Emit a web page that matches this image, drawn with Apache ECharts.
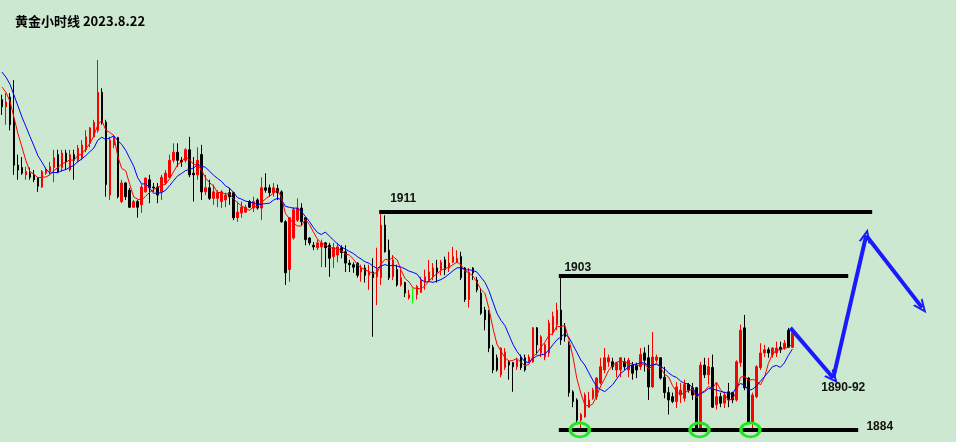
<!DOCTYPE html>
<html><head><meta charset="utf-8">
<script src="https://cdn.jsdelivr.net/npm/echarts@6/dist/echarts.min.js"></script>
<style>html,body{margin:0;padding:0;background:#cde8d0}#c{width:956px;height:442px}</style>
</head><body><div id="c"></div>
<script>
// hourly slots (candles occupy the first 199, the rest is space for the projection)
const hours = Array.from({length: 239}, (_, i) => 'H' + i);

// [open, close, low, high]
const candles = [
[1924.8,1923.9,1922.9,1925.4],[1923.9,1924.5,1921.7,1925.6],[1925.1,1921.7,1921.0,1925.6],[1922.3,1916.7,1915.5,1927.2],
[1916.7,1916.1,1914.9,1918.0],[1916.4,1915.7,1915.5,1917.7],[1915.5,1915.9,1914.9,1916.5],[1915.7,1915.2,1914.9,1916.4],
[1915.5,1914.9,1914.6,1916.1],[1915.1,1914.1,1913.4,1915.2],[1914.0,1915.9,1913.9,1916.1],[1915.7,1916.1,1915.5,1916.4],
[1915.9,1916.5,1915.5,1917.1],[1916.4,1917.6,1914.6,1918.6],[1918.0,1915.9,1915.7,1918.6],[1916.4,1918.2,1915.9,1918.6],
[1918.2,1917.1,1916.1,1918.6],[1916.1,1918.0,1915.9,1918.6],[1918.0,1917.3,1914.9,1918.6],[1917.3,1918.8,1917.0,1919.2],
[1917.6,1919.2,1917.3,1919.8],[1918.6,1920.2,1918.3,1921.0],[1919.4,1921.3,1918.9,1921.4],[1920.2,1922.0,1920.1,1922.3],
[1921.0,1925.7,1920.7,1929.7],[1925.7,1921.9,1921.7,1926.2],[1922.0,1914.3,1912.8,1922.3],[1913.0,1919.8,1912.4,1920.2],
[1919.2,1920.1,1918.8,1920.4],[1920.1,1912.8,1912.6,1920.2],[1912.2,1914.5,1912.0,1914.9],[1914.5,1912.8,1912.4,1914.6],
[1913.6,1911.5,1911.4,1913.9],[1911.5,1912.2,1911.4,1912.4],[1912.2,1911.5,1910.2,1912.4],[1911.8,1914.0,1910.8,1914.3],
[1913.4,1915.1,1913.3,1915.2],[1914.9,1913.9,1912.0,1915.5],[1914.0,1913.9,1913.4,1914.5],[1914.0,1913.0,1912.0,1914.5],
[1913.4,1915.2,1912.4,1915.5],[1914.5,1915.7,1914.3,1916.1],[1915.2,1917.3,1915.1,1918.0],[1917.3,1918.3,1917.0,1919.4],
[1918.3,1917.3,1916.5,1919.4],[1917.3,1917.1,1916.5,1917.7],[1917.3,1918.6,1917.0,1918.8],[1918.6,1915.5,1915.2,1920.2],
[1915.7,1915.5,1912.2,1917.7],[1915.5,1917.3,1914.9,1918.9],[1918.0,1913.4,1912.4,1919.2],[1913.4,1913.9,1913.0,1915.5],
[1913.9,1912.6,1912.4,1914.9],[1912.6,1913.4,1911.8,1914.3],[1912.6,1913.3,1911.5,1913.6],[1912.2,1913.4,1911.4,1913.6],
[1912.4,1913.0,1911.5,1913.3],[1913.3,1912.8,1911.8,1913.9],[1913.3,1910.2,1909.9,1913.4],[1910.2,1910.9,1909.7,1912.2],
[1910.8,1911.5,1910.2,1912.2],[1910.9,1911.5,1910.8,1911.8],[1912.2,1911.5,1911.4,1912.4],[1911.4,1912.2,1910.9,1912.8],
[1912.4,1911.4,1911.2,1912.6],[1911.4,1913.9,1909.9,1915.2],[1913.9,1913.6,1913.3,1915.7],[1913.9,1913.3,1912.8,1914.3],
[1913.3,1913.9,1912.8,1914.5],[1913.8,1913.3,1912.4,1914.3],[1913.4,1909.7,1909.6,1913.6],[1909.7,1903.4,1901.9,1909.9],
[1903.8,1910.2,1902.3,1910.3],[1907.7,1911.2,1907.5,1911.5],[1909.9,1911.4,1909.7,1912.6],[1911.4,1909.7,1909.3,1912.0],
[1910.2,1907.5,1906.8,1910.3],[1907.7,1907.1,1906.8,1907.8],[1906.8,1906.6,1906.2,1907.2],[1906.5,1907.1,1906.2,1907.5],
[1906.6,1907.1,1904.1,1907.5],[1907.1,1906.5,1904.1,1907.2],[1906.8,1905.2,1902.9,1907.1],[1905.4,1906.5,1904.0,1907.1],
[1905.6,1906.6,1904.7,1907.1],[1906.5,1905.9,1905.2,1906.8],[1906.0,1904.6,1903.5,1906.8],[1904.6,1904.4,1903.5,1905.0],
[1904.4,1904.1,1903.4,1904.7],[1904.6,1903.1,1902.8,1904.7],[1903.5,1904.0,1902.3,1904.4],[1904.0,1903.1,1902.2,1904.4],
[1903.1,1903.5,1901.3,1904.4],[1903.5,1902.8,1895.5,1905.2],[1902.9,1903.8,1899.4,1906.5],[1902.8,1909.3,1901.9,1910.9],
[1909.3,1906.0,1905.9,1910.5],[1906.2,1902.8,1902.5,1907.5],[1902.9,1905.0,1902.5,1905.6],[1903.8,1901.9,1901.7,1904.4],
[1901.9,1902.8,1901.7,1903.8],[1902.2,1900.9,1900.4,1902.3],[1900.3,1900.7,1900.1,1901.3],[1901.3,1901.3,1899.6,1901.5],
[1900.7,1901.7,1900.1,1901.9],[1901.0,1902.5,1900.9,1902.9],[1902.3,1902.9,1901.3,1903.8],[1902.5,1903.5,1902.3,1905.0],
[1902.9,1904.0,1902.5,1904.6],[1904.0,1903.5,1902.2,1905.0],[1903.8,1904.7,1903.1,1905.0],[1905.0,1903.8,1903.1,1905.4],
[1904.0,1904.6,1903.5,1906.0],[1904.7,1905.4,1904.6,1906.6],[1904.7,1905.2,1904.6,1906.2],[1905.4,1902.8,1902.5,1906.0],
[1904.0,1900.1,1899.8,1904.1],[1900.1,1903.5,1899.1,1904.0],[1904.0,1903.4,1902.5,1904.1],[1902.5,1901.3,1901.0,1902.9],
[1900.9,1898.4,1898.2,1901.5],[1898.8,1897.6,1896.3,1899.2],[1898.4,1894.1,1893.6,1898.8],[1894.2,1891.4,1891.0,1894.5],
[1892.9,1891.4,1891.2,1893.3],[1890.8,1894.1,1890.5,1894.2],[1891.7,1893.6,1891.4,1894.1],[1892.4,1892.0,1890.2,1892.6],
[1892.3,1891.8,1888.7,1892.4],[1891.8,1892.6,1891.4,1892.9],[1893.0,1891.7,1891.4,1893.3],[1892.9,1891.4,1891.2,1893.3],
[1892.4,1893.0,1892.3,1893.3],[1892.4,1896.6,1892.3,1896.7],[1896.6,1894.5,1893.3,1896.7],[1893.5,1895.5,1893.0,1895.7],
[1893.0,1894.5,1892.6,1894.7],[1893.5,1897.2,1893.0,1897.6],[1896.0,1898.0,1895.7,1898.6],[1897.0,1898.8,1896.3,1899.7],
[1898.8,1895.1,1894.5,1902.9],[1896.7,1895.5,1894.9,1897.2],[1894.5,1888.6,1888.1,1894.9],[1888.7,1887.5,1886.8,1888.9],
[1887.7,1885.2,1884.9,1887.9],[1885.2,1885.9,1884.2,1886.1],[1885.6,1888.3,1885.5,1888.6],[1886.8,1887.7,1886.7,1888.7],
[1887.9,1888.9,1887.7,1889.2],[1888.1,1890.4,1887.7,1890.5],[1889.8,1891.8,1889.6,1892.9],[1891.4,1892.9,1891.0,1894.1],
[1892.4,1892.9,1891.8,1893.3],[1892.4,1891.8,1891.4,1892.9],[1891.4,1892.3,1890.5,1892.4],[1891.4,1892.9,1890.5,1893.0],
[1892.4,1891.8,1891.4,1892.9],[1891.4,1892.6,1890.5,1892.9],[1892.0,1891.0,1890.2,1892.4],[1892.0,1891.4,1890.4,1892.3],
[1891.8,1893.3,1891.4,1894.1],[1893.5,1892.6,1891.2,1894.2],[1892.9,1889.3,1887.7,1894.5],[1889.3,1893.0,1889.2,1896.1],
[1892.6,1893.0,1892.3,1893.3],[1892.9,1890.4,1890.2,1893.0],[1890.5,1888.6,1887.9,1891.8],[1888.6,1887.7,1885.9,1889.3],
[1888.1,1887.5,1887.3,1888.6],[1887.5,1889.3,1886.7,1889.9],[1888.3,1888.9,1887.3,1889.8],[1887.9,1889.6,1887.5,1890.2],
[1889.6,1888.9,1888.6,1889.8],[1889.2,1888.3,1887.7,1889.8],[1889.2,1884.0,1883.9,1889.3],[1884.0,1892.0,1883.9,1892.4],
[1892.0,1890.8,1890.4,1892.9],[1890.8,1891.8,1889.6,1892.9],[1891.7,1886.8,1886.7,1893.3],[1887.1,1888.1,1886.5,1889.8],
[1888.1,1887.3,1886.8,1888.6],[1887.3,1888.3,1886.7,1888.7],[1888.7,1887.7,1886.8,1889.8],[1888.6,1887.7,1887.3,1888.7],
[1887.7,1892.4,1887.5,1892.6],[1892.3,1896.3,1891.8,1897.0],[1896.6,1889.2,1888.9,1898.2],[1890.4,1884.9,1884.7,1890.5],
[1884.9,1888.3,1884.2,1888.6],[1888.1,1891.8,1887.9,1892.0],[1891.7,1893.5,1891.4,1894.7],[1893.5,1893.9,1893.0,1894.5],
[1893.9,1893.5,1892.9,1894.2],[1893.3,1894.1,1892.9,1894.2],[1893.5,1894.1,1893.0,1894.9],[1894.2,1893.9,1893.5,1894.9],
[1894.1,1894.7,1893.9,1895.1],[1896.3,1894.2,1894.1,1896.6],[1894.2,1896.0,1894.1,1896.1]
];
// closes before the first visible candle (needed for the moving averages)
const priorCloses = [1930.9,1930.3,1930.1,1929.7,1929.3,1927.8,1927.2,1926.6,1926.2];
const dojiIndex = 103;

// annotations (x in slot units, y in price)
const levels = [1911, 1903, 1884];
const levelFrom = [94.5, 139.5, 139.5];
const levelTo = [218, 212, 214.5];
const levelLabels = ['1911', '1903', '1884'];
const levelLabelX = [100.5, 144.25, 219.9];
const levelLabelY = [1912.5, 1904.0, 1884.4];
const forecastPath = [[197.5,1896.6],[208.25,1890.4],[216.5,1908.0],[230.5,1899.1]];
const forecastText = '1890-92';
const forecastTextAt = [210.75, 1889.2];
const touchPoints = [[144.75,1884],[174.75,1884],[187.5,1884]];

function movingAverage(n) {
  const closes = priorCloses.concat(candles.map(c => c[1]));
  const off = priorCloses.length;
  return candles.map((c, i) => {
    let s = 0;
    for (let k = 0; k < n; k++) s += closes[off + i - k];
    return +(s / n).toFixed(2);
  });
}

const candleData = candles.map((c, i) => i === dojiIndex
  ? {value: c, itemStyle: {color: '#00ff00', color0: '#00ff00', borderColor: '#00ff00', borderColor0: '#00ff00'}}
  : c);

const txt = {color: '#111', fontSize: 12, fontWeight: 'bold', fontFamily: '"Liberation Sans", Arial, sans-serif'};
const chevron = 'path://M5,0 L10,10 L8.2,10 L5,3.4 L1.8,10 L0,10 Z';

const chart = echarts.init(document.getElementById('c'), null, {renderer: 'canvas'});
chart.setOption({
  animation: false,
  backgroundColor: '#cde8d0',
  title: {text: '黄金小时线 2023.8.22', left: 15, top: 15, padding: 0,
    textStyle: {fontSize: 13, fontWeight: 'bold', color: '#000', fontFamily: '"Noto Sans CJK SC", sans-serif'}},
  grid: {left: -2, right: 2, top: 0, bottom: 0, containLabel: false},
  xAxis: [
    {type: 'category', data: hours, boundaryGap: true, show: false},
    {type: 'value', min: -0.5, max: 238.5, show: false}
  ],
  yAxis: {type: 'value', min: 1882.5, max: 1937.1, show: false, splitLine: {show: false}},
  series: [
    {type: 'candlestick', data: candleData, barWidth: 2,
      itemStyle: {color: '#ff0000', color0: '#000000', borderColor: '#ff0000', borderColor0: '#000000', borderWidth: 1}},
    {type: 'line', data: movingAverage(5), symbol: 'none', lineStyle: {color: '#ff0000', width: 1}, itemStyle: {color: '#ff0000'}},
    {type: 'line', data: movingAverage(10), symbol: 'none', lineStyle: {color: '#0000ff', width: 1}, itemStyle: {color: '#0000ff'}},
    {type: 'line', xAxisIndex: 1, data: [], silent: true,
      markLine: {silent: true, symbol: ['none', 'none'], label: {show: false},
        lineStyle: {color: '#000', width: 4, type: 'solid'},
        data: levels.map((v, i) => [{coord: [levelFrom[i], v]}, {coord: [levelTo[i], v]}])},
      markPoint: {silent: true, symbol: 'circle', symbolSize: 0,
        label: Object.assign({show: true, position: 'inside', formatter: p => p.name}, txt),
        data: levelLabels.map((t, i) => ({name: t, coord: [levelLabelX[i], levelLabelY[i]]}))
          .concat([{name: forecastText, coord: forecastTextAt}])}
    },
    {type: 'line', xAxisIndex: 1, data: [], silent: true,
      markLine: {silent: true, symbol: ['none', chevron], symbolSize: [12, 14], label: {show: false},
        lineStyle: {color: '#1a1aff', width: 4, type: 'solid'},
        data: forecastPath.slice(1).map((p, i) => [{coord: forecastPath[i]}, {coord: p}])},
      markPoint: {silent: true, symbol: 'circle', symbolSize: [19, 14], label: {show: false},
        itemStyle: {color: 'rgba(0,0,0,0)', borderColor: '#1ee81e', borderWidth: 3},
        data: touchPoints.map(p => ({coord: p}))}
    }
  ]
});
</script>
</body></html>
